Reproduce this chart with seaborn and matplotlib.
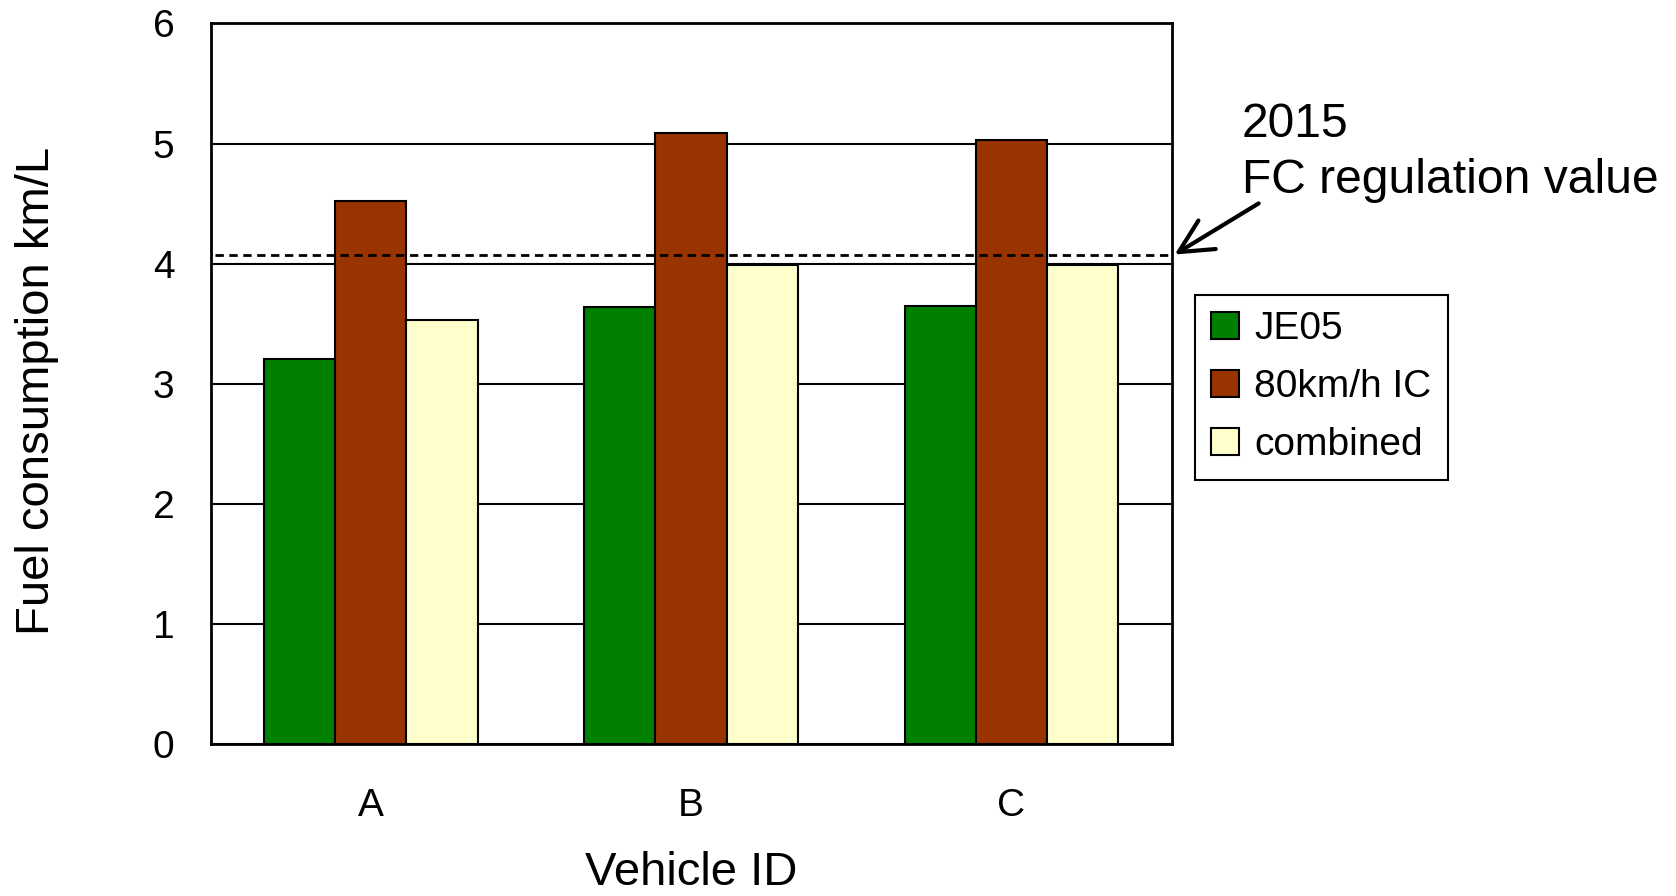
import numpy as np
import pandas as pd
import seaborn as sns
import matplotlib.pyplot as plt
from matplotlib import font_manager
from matplotlib.patches import Patch

# Data
vehicles = ['A', 'B', 'C']
series = ['JE05', '80km/h IC', 'combined']
je05 = [3.21, 3.64, 3.65]
ic80 = [4.52, 5.09, 5.03]
combined = [3.53, 3.99, 3.99]
regulation = 4.07
yticks = [0, 1, 2, 3, 4, 5, 6]
colors = ['#008000', '#993300', '#FFFFCC']

df = pd.DataFrame({
    'Vehicle': vehicles * 3,
    'Test': [s for s in series for _ in vehicles],
    'FC': je05 + ic80 + combined,
})

sns.set_theme(style='white', rc={'text.color': 'black', 'axes.labelcolor': 'black',
                                 'xtick.color': 'black', 'ytick.color': 'black'})
plt.rcParams['font.family'] = ['Liberation Sans', 'DejaVu Sans']
installed = {f.name for f in font_manager.fontManager.ttflist}
narrow = 'Liberation Sans Narrow' if 'Liberation Sans Narrow' in installed else 'Liberation Sans'

fig = plt.figure(figsize=(16.76, 8.96), dpi=100)
ax = fig.add_axes([0.1257, 0.1696, 0.5733, 0.8042])

sns.barplot(data=df, x='Vehicle', y='FC', hue='Test', order=vehicles, hue_order=series,
            palette=colors, width=0.667, gap=0, edgecolor='black', linewidth=1.5,
            saturation=1, errorbar=None, legend=False, ax=ax)

ax.set_xlim(-0.5, 2.5)
ax.set_ylim(0, 6)
ax.set_yticks(yticks)
ax.set_axisbelow(True)
ax.yaxis.grid(True, color='black', lw=1.5)
ax.xaxis.grid(False)
for sp in ax.spines.values():
    sp.set_color('black')
    sp.set_linewidth(2)

ax.set_xlabel('')
ax.set_ylabel('')
ax.set_xticks([0.5, 1.5], minor=True)
ax.tick_params(axis='x', which='minor', direction='in', length=9, width=1.5, color='black')
ax.tick_params(axis='x', which='major', length=0, pad=32, labelsize=28, labelcolor='black')
ax.tick_params(axis='y', length=0, pad=26, labelsize=28, labelcolor='black')
for lab in ax.get_xticklabels():
    lab.set_family(narrow)

# regulation value line
ax.axhline(regulation, xmin=0.005, xmax=1, color='black', lw=2, dashes=(3, 2), zorder=5)
ax.annotate('', xy=(1.002, regulation), xycoords=('axes fraction', 'data'),
            xytext=(0.751, 0.773), textcoords='figure fraction',
            arrowprops=dict(arrowstyle='->,head_length=0.6,head_width=0.3', lw=3,
                            color='black', mutation_scale=40, shrinkA=0, shrinkB=1),
            annotation_clip=False)
fig.text(0.741, 0.886, '2015\nFC regulation value', fontsize=34.6, va='top', ha='left',
         linespacing=1.3, color='black')

# axis titles
fig.text(0.022, 0.5636, 'Fuel consumption km/L', fontsize=34, rotation=90,
         ha='center', va='center', color='black')
fig.text(0.4123, 0.012, 'Vehicle ID', fontsize=34, ha='center', va='baseline', color='black')

handles = [Patch(facecolor=c, edgecolor='black', lw=1.5) for c in colors]
leg = ax.legend(handles, series, loc='upper left', bbox_to_anchor=(0.713, 0.671),
                bbox_transform=fig.transFigure, frameon=True, fancybox=False,
                edgecolor='black', framealpha=1, prop={'family': narrow, 'size': 28},
                handlelength=0.7, handleheight=0.7, handletextpad=0.4,
                borderpad=0.42, labelspacing=0.57, borderaxespad=0)
leg.get_frame().set_linewidth(1.5)
for t in leg.get_texts():
    t.set_color('black')

fig.savefig('out.png', dpi=100)
